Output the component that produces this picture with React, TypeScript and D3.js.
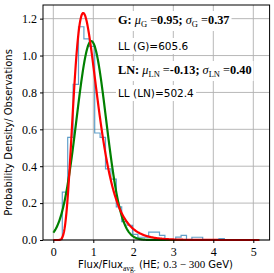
import React, { useEffect, useRef } from 'react';
import * as d3 from 'd3';

// histogram (density), uniform bins
const binStart = 0.225;
const binWidth = 0.135;
const binValues = [
  0.26, 0.556, 0.844, 1.156, 1.09, 1.05, 0.58, 0.556, 0.386, 0.33,
  0.18, 0.1, 0.08, 0.03, 0.015, 0.015, 0.043, 0.043, 0.025, 0,
  0, 0.016, 0.025, 0, 0.015, 0.015, 0, 0, 0, 0.008,
];

// fitted parameters
const gaussMu = 0.95;
const gaussSigma = 0.37;
const lnMu = -0.13;
const lnSigma = 0.4;
const llGauss = '605.6';
const llLogn = '502.4';

const xRange = [0, 5.15];
const xTicks = [0, 1, 2, 3, 4, 5];
const yTicks = [0, 0.2, 0.4, 0.6, 0.8, 1.0, 1.2];

const SERIF = "'Liberation Serif', 'DejaVu Serif', serif";
const SANS = "'DejaVu Sans', sans-serif";

const gaussPdf = (x: number) =>
  Math.exp(-((x - gaussMu) ** 2) / (2 * gaussSigma ** 2)) / (gaussSigma * Math.sqrt(2 * Math.PI));
const lognPdf = (x: number) =>
  x <= 0 ? 0 : Math.exp(-((Math.log(x) - lnMu) ** 2) / (2 * lnSigma ** 2)) / (x * lnSigma * Math.sqrt(2 * Math.PI));

const FitChart: React.FC = () => {
  const svgRef = useRef<SVGSVGElement>(null);

  useEffect(() => {
    if (!svgRef.current) return;
    const width = 274;
    const height = 273;
    const left = 43, right = 269.6, top = 5, bottom = 240;

    const pad = (xRange[1] - xRange[0]) * 0.05;
    const x = d3.scaleLinear().domain([xRange[0] - pad, xRange[1] + pad]).range([left, right]);
    const y = d3.scaleLinear().domain([0, 1.274]).range([bottom, top]);

    const svg = d3.select(svgRef.current).attr('width', width).attr('height', height).html('');

    // grid
    const grid = svg.append('g').attr('stroke', '#b0b0b0').attr('stroke-width', 0.9);
    xTicks.forEach(t => grid.append('line').attr('x1', x(t)).attr('x2', x(t)).attr('y1', top).attr('y2', bottom));
    yTicks.forEach(t => grid.append('line').attr('x1', left).attr('x2', right).attr('y1', y(t)).attr('y2', y(t)));

    // annotation text with white boxes
    const ann = svg.append('g');
    const tx = 118;
    const addLine = (yy: number, parts: { t: string; w?: string; s?: string; sub?: boolean; f?: string }[]) => {
      const text = ann.append('text').attr('x', tx).attr('y', yy).attr('font-size', 12.3);
      parts.forEach(p => {
        const ts = text.append('tspan').text(p.t)
          .attr('font-family', p.f || SERIF)
          .attr('font-weight', p.w || 'normal')
          .attr('font-style', p.s || 'normal');
        if (p.sub) ts.attr('font-size', 8.5).attr('baseline-shift', '-3');
      });
      return text;
    };
    const lines = [
      addLine(24, [
        { t: 'G:', w: 'bold' }, { t: ' μ', s: 'italic' }, { t: 'G', sub: true }, { t: ' =' },
        { t: '0.95;', w: 'bold' }, { t: ' σ', s: 'italic' }, { t: 'G', sub: true }, { t: ' =' }, { t: '0.37', w: 'bold' },
      ]),
      addLine(50, [{ t: `LL (G)=${llGauss}`, f: SANS }]),
      addLine(74, [
        { t: 'LN:', w: 'bold' }, { t: ' μ', s: 'italic' }, { t: 'LN', sub: true }, { t: ' =' },
        { t: `${lnMu.toFixed(2)};`, w: 'bold' }, { t: ' σ', s: 'italic' }, { t: 'LN', sub: true }, { t: ' =' },
        { t: lnSigma.toFixed(2), w: 'bold' },
      ]),
      addLine(97, [{ t: `LL (LN)=${llLogn}`, f: SANS }]),
    ];
    lines[1].attr('font-size', 10.5);
    lines[3].attr('font-size', 10.5);
    lines.forEach(l => {
      const b = (l.node() as SVGTextElement).getBBox();
      ann.insert('rect', 'text').attr('x', b.x - 2).attr('y', b.y - 2).attr('width', b.width + 4)
        .attr('height', b.height + 4).attr('fill', 'white');
    });

    // histogram step outline
    const pts: [number, number][] = [[binStart, 0]];
    binValues.forEach((v, i) => {
      pts.push([binStart + i * binWidth, v]);
      pts.push([binStart + (i + 1) * binWidth, v]);
    });
    pts.push([binStart + binValues.length * binWidth, 0]);
    const line = d3.line<[number, number]>().x(d => x(d[0])).y(d => y(d[1]));
    svg.append('path').attr('d', line(pts)).attr('fill', 'none')
      .attr('stroke', '#1f77b4').attr('stroke-opacity', 0.7).attr('stroke-width', 1.2);

    // fitted curves
    const xs = d3.range(xRange[0], xRange[1] + 1e-9, 0.01);
    svg.append('path').attr('d', line(xs.map(v => [v, gaussPdf(v)] as [number, number])))
      .attr('fill', 'none').attr('stroke', '#008000').attr('stroke-width', 2.2);
    svg.append('path').attr('d', line(xs.map(v => [v, lognPdf(v)] as [number, number])))
      .attr('fill', 'none').attr('stroke', '#ff0000').attr('stroke-width', 2.2);

    // frame
    svg.append('rect').attr('x', left).attr('y', top).attr('width', right - left).attr('height', bottom - top)
      .attr('fill', 'none').attr('stroke', '#000').attr('stroke-width', 1);

    // axes
    const xAxis = svg.append('g').attr('transform', `translate(0,${bottom})`)
      .call(d3.axisBottom(x).tickValues(xTicks).tickSize(3).tickPadding(4).tickFormat(d3.format('d')));
    const yAxis = svg.append('g').attr('transform', `translate(${left},0)`)
      .call(d3.axisLeft(y).tickValues(yTicks).tickSize(3).tickPadding(3).tickFormat(d3.format('.1f')));
    [xAxis, yAxis].forEach(a => {
      a.select('.domain').remove();
      a.selectAll('text').attr('font-family', SERIF).attr('font-size', 12).attr('fill', '#000');
    });

    // axis labels
    svg.append('text').attr('transform', 'translate(12,132.5) rotate(-90)').attr('text-anchor', 'middle')
      .attr('font-family', SANS).attr('font-size', 10).text('Probability Density/ Observations');

    const xl = svg.append('text').attr('x', 155.5).attr('y', 268).attr('text-anchor', 'middle').attr('font-size', 10);
    xl.append('tspan').attr('font-family', SANS).text('Flux/Flux');
    xl.append('tspan').attr('font-family', SERIF).attr('font-size', 7.5).attr('baseline-shift', '-2.5').text('avg.');
    xl.append('tspan').attr('font-family', SANS).text(' (HE; ');
    xl.append('tspan').attr('font-family', SERIF).attr('font-size', 11).text('0.3 − 300');
    xl.append('tspan').attr('font-family', SANS).text(' GeV)');
  }, []);

  return <svg ref={svgRef} style={{ position: 'absolute', left: 0, top: 0 }}></svg>;
};

export default function App() {
  return <FitChart />;
}
